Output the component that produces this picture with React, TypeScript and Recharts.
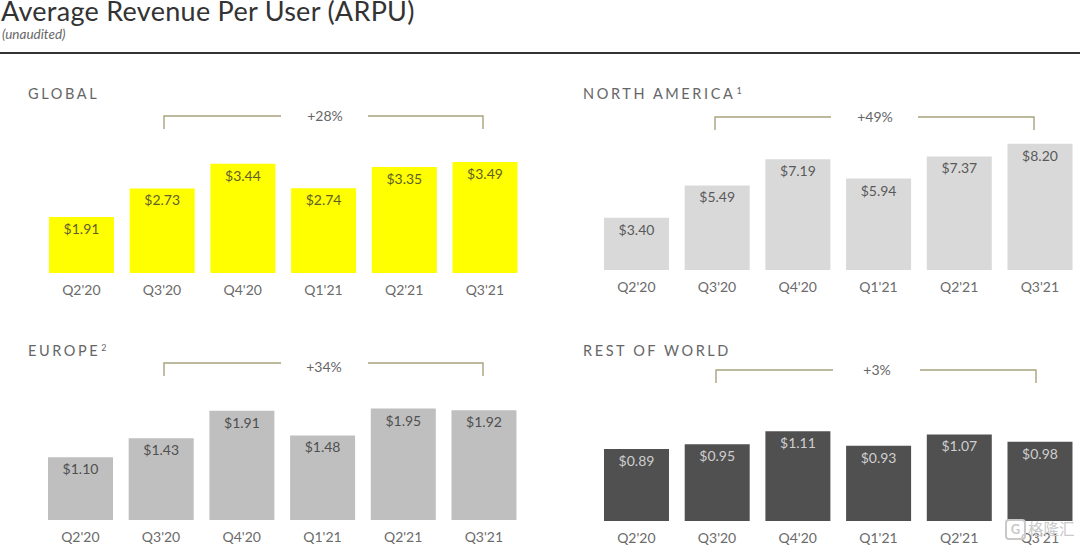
import { BarChart, Bar, XAxis, YAxis, LabelList } from "recharts";

const quarters = ["Q2'20", "Q3'20", "Q4'20", "Q1'21", "Q2'21", "Q3'21"];

const globalValues = [1.91, 2.73, 3.44, 2.74, 3.35, 3.49];
const northAmericaValues = [3.4, 5.49, 7.19, 5.94, 7.37, 8.2];
const europeValues = [1.1, 1.43, 1.91, 1.48, 1.95, 1.92];
const restOfWorldValues = [0.89, 0.95, 1.11, 0.93, 1.07, 0.98];

const FONT = "Lato, 'Open Sans', sans-serif";
const STEP = 80.7;
const BAR_W = 65;
const AXIS_H = 24;

function Panel({ values, domain, fill, labelColor, left, base, plotH }: any) {
  const data = quarters.map((q, i) => ({ q, v: values[i] }));
  return (
    <div style={{ position: "absolute", left, top: base - plotH }}>
      <BarChart
        width={STEP * 6}
        height={plotH + AXIS_H}
        data={data}
        margin={{ top: 0, right: 0, bottom: 0, left: 0 }}
      >
        <XAxis
          dataKey="q"
          height={AXIS_H}
          axisLine={false}
          tickLine={false}
          interval={0}
          tickMargin={6}
          tick={{ fontSize: 14, fill: "#6b6b6b", fontFamily: FONT }}
        />
        <YAxis hide domain={domain} />
        <Bar dataKey="v" fill={fill} barSize={BAR_W} isAnimationActive={false}>
          <LabelList
            dataKey="v"
            position="insideTop"
            offset={7}
            formatter={(v: any) => "$" + Number(v).toFixed(2)}
            style={{ fontSize: 14, fill: labelColor, fontFamily: FONT }}
          />
        </Bar>
      </BarChart>
    </div>
  );
}

function Heading({ x, y, text, sup }: any) {
  return (
    <div
      style={{
        position: "absolute",
        left: x,
        top: y - 9,
        lineHeight: "20px",
        height: 20,
        fontSize: 14.5,
        letterSpacing: 2.6,
        color: "#666",
        fontFamily: FONT,
        whiteSpace: "nowrap",
      }}
    >
      {text}
      {sup && (
        <span style={{ fontSize: 9, lineHeight: 0, position: "relative", top: -5, marginLeft: 1 }}>{sup}</span>
      )}
    </div>
  );
}

function Bracket({ x1, x2, x3, x4, y, label, labelX, labelY }: any) {
  const c = "#a8a27c";
  return (
    <g fill="none" stroke={c} strokeWidth={1.4}>
      <polyline points={`${x1},${y + 13} ${x1},${y} ${x2},${y}`} />
      <polyline points={`${x3},${y} ${x4},${y} ${x4},${y + 13}`} />
      <text
        x={labelX}
        y={labelY}
        textAnchor="middle"
        stroke="none"
        fill="#666"
        fontSize={14}
        fontFamily={FONT}
      >
        {label}
      </text>
    </g>
  );
}

export default function App() {
  return (
    <div
      style={{
        position: "absolute",
        left: 0,
        top: 0,
        width: 1080,
        height: 545,
        overflow: "hidden",
        background: "#fff",
        fontFamily: FONT,
      }}
    >
      <div
        style={{
          position: "absolute",
          left: 1,
          top: 0,
          fontSize: 27,
          lineHeight: "22px",
          letterSpacing: 0.28,
          color: "#333",
          whiteSpace: "nowrap",
        }}
      >
        Average Revenue Per User (ARPU)
      </div>
      <div
        style={{
          position: "absolute",
          left: 2,
          top: 26,
          fontSize: 13.5,
          lineHeight: "17px",
          fontStyle: "italic",
          color: "#666",
        }}
      >
        (unaudited)
      </div>
      <div
        style={{ position: "absolute", left: 0, top: 52, width: 1080, height: 1.5, background: "#333" }}
      />

      <Heading x={28} y={93} text="GLOBAL" />
      <Heading x={583} y={93} text="NORTH AMERICA" sup="1" />
      <Heading x={28} y={350} text="EUROPE" sup="2" />
      <Heading x={583} y={350} text="REST OF WORLD" />

      <Panel values={globalValues} domain={[0.3, 3.75]} fill="#ffff00" labelColor="#5f5f2a" left={41.2} base={273} plotH={120} />
      <Panel values={northAmericaValues} domain={[0, 8.77]} fill="#d9d9d9" labelColor="#595959" left={596} base={270} plotH={135} />
      <Panel values={europeValues} domain={[0, 2.1]} fill="#bfbfbf" labelColor="#4f4f4f" left={40} base={520} plotH={120} />
      <Panel values={restOfWorldValues} domain={[0, 1.236]} fill="#505050" labelColor="#cfcfcf" left={596} base={521} plotH={100} />

      <svg width={1080} height={545} style={{ position: "absolute", left: 0, top: 0 }}>
        <Bracket x1={164} x2={281} x3={368} x4={483} y={116} label="+28%" labelX={325} labelY={121} />
        <Bracket x1={715} x2={831} x3={918} x4={1034} y={117} label="+49%" labelX={875} labelY={122} />
        <Bracket x1={164} x2={281} x3={368} x4={483} y={363} label="+34%" labelX={324} labelY={372} />
        <Bracket x1={716} x2={833} x3={920} x4={1036} y={370} label="+3%" labelX={877} labelY={375} />
      </svg>

      <div
        style={{
          position: "absolute",
          left: 1005,
          top: 519,
          width: 17,
          height: 17,
          border: "2px solid #c9c9c9",
          borderRadius: 4,
          color: "#c9c9c9",
          fontSize: 13,
          fontWeight: 700,
          lineHeight: "17px",
          textAlign: "center",
          background: "rgba(255,255,255,0.6)",
        }}
      >
        G
      </div>
      <div
        style={{
          position: "absolute",
          left: 1028,
          top: 518,
          fontSize: 15.5,
          color: "#c9c9c9",
          fontFamily: "'Noto Sans CJK SC', sans-serif",
          lineHeight: "20px",
        }}
      >
        格隆汇
      </div>
    </div>
  );
}
